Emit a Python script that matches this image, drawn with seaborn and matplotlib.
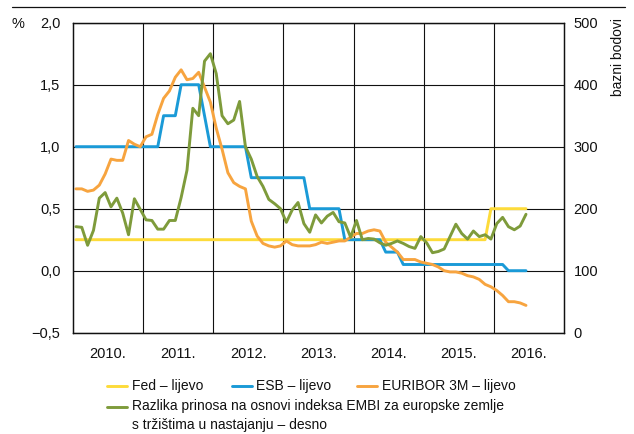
import numpy as np
import pandas as pd
import matplotlib
matplotlib.use("Agg")
import matplotlib.pyplot as plt
from matplotlib.lines import Line2D
import seaborn as sns

# ---- data (monthly, Jan 2010 - Jun 2016) ----
first_year = 2010
n_months = 78

fed = [0.25, 0.25, 0.25, 0.25, 0.25, 0.25, 0.25, 0.25, 0.25, 0.25, 0.25, 0.25,
       0.25, 0.25, 0.25, 0.25, 0.25, 0.25, 0.25, 0.25, 0.25, 0.25, 0.25, 0.25,
       0.25, 0.25, 0.25, 0.25, 0.25, 0.25, 0.25, 0.25, 0.25, 0.25, 0.25, 0.25,
       0.25, 0.25, 0.25, 0.25, 0.25, 0.25, 0.25, 0.25, 0.25, 0.25, 0.25, 0.25,
       0.25, 0.25, 0.25, 0.25, 0.25, 0.25, 0.25, 0.25, 0.25, 0.25, 0.25, 0.25,
       0.25, 0.25, 0.25, 0.25, 0.25, 0.25, 0.25, 0.25, 0.25, 0.25, 0.25, 0.50,
       0.50, 0.50, 0.50, 0.50, 0.50, 0.50]

esb = [1.00, 1.00, 1.00, 1.00, 1.00, 1.00, 1.00, 1.00, 1.00, 1.00, 1.00, 1.00,
       1.00, 1.00, 1.00, 1.25, 1.25, 1.25, 1.50, 1.50, 1.50, 1.50, 1.25, 1.00,
       1.00, 1.00, 1.00, 1.00, 1.00, 1.00, 0.75, 0.75, 0.75, 0.75, 0.75, 0.75,
       0.75, 0.75, 0.75, 0.75, 0.50, 0.50, 0.50, 0.50, 0.50, 0.50, 0.25, 0.25,
       0.25, 0.25, 0.25, 0.25, 0.25, 0.15, 0.15, 0.15, 0.05, 0.05, 0.05, 0.05,
       0.05, 0.05, 0.05, 0.05, 0.05, 0.05, 0.05, 0.05, 0.05, 0.05, 0.05, 0.05,
       0.05, 0.05, 0.00, 0.00, 0.00, 0.00]

euribor = [0.66, 0.66, 0.64, 0.65, 0.69, 0.78, 0.90, 0.89, 0.89, 1.05, 1.02, 1.00,
           1.08, 1.10, 1.26, 1.39, 1.45, 1.56, 1.62, 1.54, 1.55, 1.60, 1.48, 1.36,
           1.15, 0.98, 0.79, 0.71, 0.68, 0.66, 0.40, 0.28, 0.22, 0.20, 0.19, 0.20,
           0.24, 0.21, 0.20, 0.20, 0.20, 0.21, 0.23, 0.22, 0.23, 0.24, 0.24, 0.27,
           0.30, 0.30, 0.32, 0.33, 0.32, 0.23, 0.19, 0.15, 0.09, 0.09, 0.09, 0.07,
           0.06, 0.05, 0.03, 0.00, -0.01, -0.01, -0.02, -0.04, -0.05, -0.07, -0.11, -0.13,
           -0.16, -0.20, -0.25, -0.25, -0.26, -0.28]

embi = [171, 170, 141, 165, 217, 226, 203, 217, 193, 158, 216, 199,
        182, 181, 167, 167, 181, 181, 218, 262, 362, 350, 438, 450,
        418, 350, 337, 343, 373, 300, 280, 252, 236, 215, 208, 200,
        178, 198, 210, 176, 162, 190, 177, 188, 194, 179, 177, 154,
        181, 150, 152, 151, 145, 141, 144, 148, 144, 139, 136, 155,
        145, 129, 131, 135, 155, 175, 160, 151, 164, 155, 158, 151,
        176, 186, 171, 166, 172, 191]

year_labels = ["2010.", "2011.", "2012.", "2013.", "2014.", "2015.", "2016."]
left_ticks = [-0.5, 0.0, 0.5, 1.0, 1.5, 2.0]
left_labels = ["\u22120,5", "0,0", "0,5", "1,0", "1,5", "2,0"]
right_ticks = [0, 100, 200, 300, 400, 500]
right_labels = ["0", "100", "200", "300", "400", "500"]

legend_labels = ["Fed \u2013 lijevo", "ESB \u2013 lijevo", "EURIBOR 3M \u2013 lijevo",
                 "Razlika prinosa na osnovi indeksa EMBI za europske zemlje\ns tr\u017ei\u0161tima u nastajanju \u2013 desno"]

# ---- style ----
c_fed = "#FDDB3A"
c_esb = "#1A9AD7"
c_eur = "#F7A43F"
c_embi = "#7E9B3B"

sns.set_theme(style="white")
plt.rcParams["font.family"] = ["Liberation Sans", "DejaVu Sans"]
FS = 10.5
LFS = 10

t = first_year + (np.arange(n_months) + 0.5) / 12.0
df = pd.DataFrame({"t": t, "fed": fed, "esb": esb, "eur": euribor, "embi": embi})

fig = plt.figure(figsize=(6.34, 4.34), dpi=100)
ax = fig.add_axes([73/634, 1-332.7/434, (564-73)/634, (332.7-22.7)/434])

lw = 2.1
sns.lineplot(data=df, x="t", y="fed", ax=ax, color=c_fed, linewidth=lw)
sns.lineplot(data=df, x="t", y="esb", ax=ax, color=c_esb, linewidth=lw)
sns.lineplot(data=df, x="t", y="eur", ax=ax, color=c_eur, linewidth=lw)

ax.set_xlim(first_year, first_year + len(year_labels))
ax.set_ylim(-0.5, 2.0)
ax.set_xlabel("")
ax.set_ylabel("")

ax.set_xticks([first_year + i for i in range(1, len(year_labels))])
ax.set_xticklabels([])
ax.set_xticks([first_year + i + 0.5 for i in range(len(year_labels))], minor=True)
ax.set_xticklabels(year_labels, minor=True, fontsize=FS)
ax.set_yticks(left_ticks)
ax.set_yticklabels(left_labels, fontsize=FS)
ax.tick_params(axis="x", which="both", length=0, pad=10, colors="#111111")
ax.tick_params(axis="y", which="both", length=0, pad=9, colors="#111111")
ax.grid(True, which="major", color="#111111", linewidth=0.8)
ax.grid(False, which="minor")
for s in ax.spines.values():
    s.set_visible(True)
    s.set_color("#111111")
    s.set_linewidth(0.9)

ax2 = ax.twinx()
sns.lineplot(data=df, x="t", y="embi", ax=ax2, color=c_embi, linewidth=lw)
ax2.set_ylim(0, 500)
ax2.set_yticks(right_ticks)
ax2.set_yticklabels(right_labels, fontsize=FS)
ax2.set_ylabel("")
ax2.tick_params(axis="y", length=0, pad=7, colors="#111111")
ax2.grid(False)
for s in ax2.spines.values():
    s.set_visible(True)
    s.set_color("#111111")
    s.set_linewidth(0.9)

# ---- annotations ----
fig.add_artist(Line2D([12/634, 625/634], [1-7/434, 1-7/434], color="#111111", linewidth=0.9))
fig.text(12/634, 1-24/434, "%", fontsize=FS, ha="left", va="center", color="#111111")
fig.text(618/634, 1-18/434, "bazni bodovi", fontsize=10, rotation=90,
         ha="center", va="top", color="#111111")

# ---- legend ----
def key(x0, y, color):
    fig.add_artist(Line2D([x0/634, (x0+20)/634], [1-y/434, 1-y/434], color=color, linewidth=2.1))

row1 = 385.7
key(106.7, row1, c_fed)
fig.text(131.7/634, 1-row1/434, legend_labels[0], fontsize=LFS, va="center", ha="left", color="#111111")
key(231.7, row1, c_esb)
fig.text(255.7/634, 1-row1/434, legend_labels[1], fontsize=LFS, va="center", ha="left", color="#111111")
key(356.7, row1, c_eur)
fig.text(381.7/634, 1-row1/434, legend_labels[2], fontsize=LFS, va="center", ha="left", color="#111111")
row2 = 406.7
key(106.7, row2, c_embi)
fig.text(131.7/634, 1-(row2-7.5)/434, legend_labels[3], fontsize=LFS, va="top", ha="left",
         color="#111111", linespacing=1.45)

fig.savefig("out.png", dpi=100)
